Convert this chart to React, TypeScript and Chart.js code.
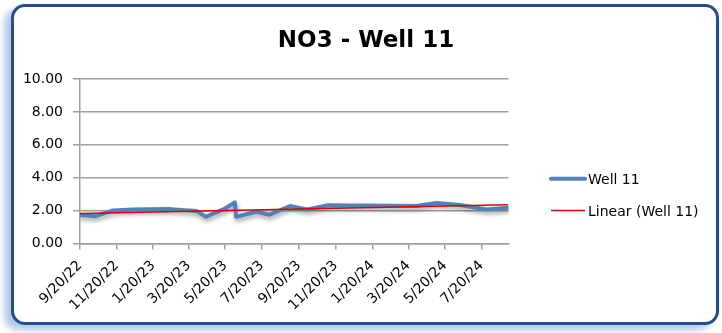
import React, { useEffect, useRef } from "react";
import { Chart, registerables } from "chart.js";

Chart.register(...registerables);

// ---- Data ----
const chartTitle = "NO3 - Well 11";
const seriesLabel = "Well 11";
const trendLabel = "Linear (Well 11)";

const sampleDates = [
  "2022-09-20", "2022-10-15", "2022-11-14", "2022-12-18", "2023-02-17",
  "2023-04-02", "2023-04-18", "2023-05-17", "2023-06-05", "2023-06-07",
  "2023-07-11", "2023-08-02", "2023-09-05", "2023-10-03", "2023-11-08",
  "2023-12-12", "2024-01-16", "2024-02-14", "2024-04-03", "2024-05-06",
  "2024-06-14", "2024-07-29", "2024-09-02",
];
const well11 = [
  1.73, 1.65, 2.01, 2.07, 2.09,
  1.97, 1.63, 2.07, 2.5, 1.63,
  1.93, 1.75, 2.28, 2.07, 2.32,
  2.31, 2.31, 2.29, 2.28, 2.46,
  2.34, 2.07, 2.17,
];

const tickDates = [
  "2022-09-20", "2022-11-20", "2023-01-20", "2023-03-20", "2023-05-20", "2023-07-20",
  "2023-09-20", "2023-11-20", "2024-01-20", "2024-03-20", "2024-05-20", "2024-07-20",
];
const tickLabels = [
  "9/20/22", "11/20/22", "1/20/23", "3/20/23", "5/20/23", "7/20/23",
  "9/20/23", "11/20/23", "1/20/24", "3/20/24", "5/20/24", "7/20/24",
];
const axisStart = "2022-09-20";
const axisEnd = "2024-09-03";
const yMin = 0;
const yMax = 10;
const yStep = 2;

// ---- Helpers ----
const DAY = 86400000;
const utc = (s: string) => {
  const [y, m, d] = s.split("-").map(Number);
  return Date.UTC(y, m - 1, d);
};
const toDay = (s: string) => (utc(s) - utc(axisStart)) / DAY;

const FONT = "'DejaVu Sans', sans-serif";
const BLUE = "#4F81BD";
const RED = "#E00000";
const GRID = "#A0A0A0";

function regression(xs: number[], ys: number[]) {
  const n = xs.length;
  const mx = xs.reduce((a, b) => a + b, 0) / n;
  const my = ys.reduce((a, b) => a + b, 0) / n;
  let sxy = 0, sxx = 0;
  for (let i = 0; i < n; i++) {
    sxy += (xs[i] - mx) * (ys[i] - my);
    sxx += (xs[i] - mx) * (xs[i] - mx);
  }
  const b = sxy / sxx;
  return { a: my - b * mx, b };
}

const decorPlugin = {
  id: "decor",
  beforeDatasetDraw(chart: any, args: any) {
    if (chart.data.datasets[args.index].label === seriesLabel) {
      const ctx = chart.ctx;
      ctx.save();
      ctx.shadowColor = "rgba(0,0,0,0.35)";
      ctx.shadowBlur = 4;
      ctx.shadowOffsetX = 1;
      ctx.shadowOffsetY = 3;
    }
  },
  afterDatasetDraw(chart: any, args: any) {
    if (chart.data.datasets[args.index].label === seriesLabel) {
      chart.ctx.restore();
    }
  },
  afterDraw(chart: any) {
    const ctx = chart.ctx;
    ctx.save();
    ctx.fillStyle = "#000";
    ctx.font = `bold 23px ${FONT}`;
    ctx.textAlign = "center";
    ctx.textBaseline = "alphabetic";
    ctx.fillText(chartTitle, 366, 47);

    const items = [
      { label: seriesLabel, color: BLUE, width: 4, y: 178.7 },
      { label: trendLabel, color: RED, width: 1.5, y: 210.5 },
    ];
    ctx.font = `14px ${FONT}`;
    ctx.textAlign = "left";
    for (const it of items) {
      ctx.beginPath();
      ctx.strokeStyle = it.color;
      ctx.lineWidth = it.width;
      ctx.lineCap = it.width > 2 ? "round" : "butt";
      ctx.moveTo(551, it.y);
      ctx.lineTo(585, it.y);
      ctx.stroke();
      ctx.fillStyle = "#000";
      ctx.fillText(it.label, 588, it.y + 5);
    }
    ctx.restore();
  },
};

export default function App() {
  const ref = useRef<HTMLCanvasElement | null>(null);

  useEffect(() => {
    if (!ref.current) return;
    const xs = sampleDates.map(toDay);
    const { a, b } = regression(xs, well11);
    const x0 = xs[0];
    const x1 = xs[xs.length - 1];
    const tickDays = tickDates.map(toDay);

    const chart = new Chart(ref.current, {
      type: "line",
      data: {
        datasets: [
          {
            label: trendLabel,
            data: [
              { x: x0, y: a + b * x0 },
              { x: x1, y: a + b * x1 },
            ],
            borderColor: RED,
            borderWidth: 1.5,
            pointRadius: 0,
            fill: false,
          },
          {
            label: seriesLabel,
            data: xs.map((x, i) => ({ x, y: well11[i] })),
            borderColor: BLUE,
            borderWidth: 4,
            pointRadius: 0,
            borderJoinStyle: "round",
            borderCapStyle: "round",
            tension: 0,
            fill: false,
          },
        ],
      },
      options: {
        animation: false,
        responsive: false,
        devicePixelRatio: 1,
        layout: { padding: { top: 79, right: 213.5, left: 0, bottom: 0 } },
        plugins: {
          legend: { display: false },
          title: { display: false },
          tooltip: { enabled: false },
        },
        scales: {
          x: {
            type: "linear",
            min: 0,
            max: toDay(axisEnd),
            afterBuildTicks: (s: any) => {
              s.ticks = tickDays.map((v) => ({ value: v }));
            },
            afterFit: (s: any) => {
              s.height = 89.5;
            },
            ticks: {
              autoSkip: false,
              maxRotation: 45,
              minRotation: 45,
              padding: 8,
              color: "#000",
              font: { family: FONT, size: 14 },
              callback: (v: any) => {
                const i = tickDays.indexOf(Number(v));
                return i >= 0 ? tickLabels[i] : "";
              },
            },
            grid: {
              drawOnChartArea: false,
              drawTicks: true,
              tickLength: 6,
              color: GRID,
              lineWidth: 1.5,
            },
            border: { display: true, color: GRID, width: 1.5 },
          },
          y: {
            min: yMin,
            max: yMax,
            afterFit: (s: any) => {
              s.width = 80;
            },
            ticks: {
              stepSize: yStep,
              padding: 10,
              color: "#000",
              font: { family: FONT, size: 14 },
              callback: (v: any) => Number(v).toFixed(2),
            },
            grid: { color: GRID, lineWidth: 1.5, tickLength: 7 },
            border: { display: true, color: GRID, width: 1.5 },
          },
        },
      },
      plugins: [decorPlugin],
    } as any);
    return () => chart.destroy();
  }, []);

  return (
    <div
      style={{
        position: "fixed",
        left: 0,
        top: 0,
        width: 722,
        height: 333,
        background: "#fff",
        overflow: "hidden",
      }}
    >
      <div
        style={{
          position: "absolute",
          left: 11,
          top: 4,
          width: 702,
          height: 315,
          border: "3px solid #254E8A",
          borderRadius: 14,
          background: "#fff",
          boxShadow: "-7px 5px 6px rgba(150,185,228,0.75)",
        }}
      />
      <canvas
        ref={ref}
        width={722}
        height={333}
        style={{ position: "absolute", left: 0, top: 0, width: 722, height: 333 }}
      />
    </div>
  );
}
